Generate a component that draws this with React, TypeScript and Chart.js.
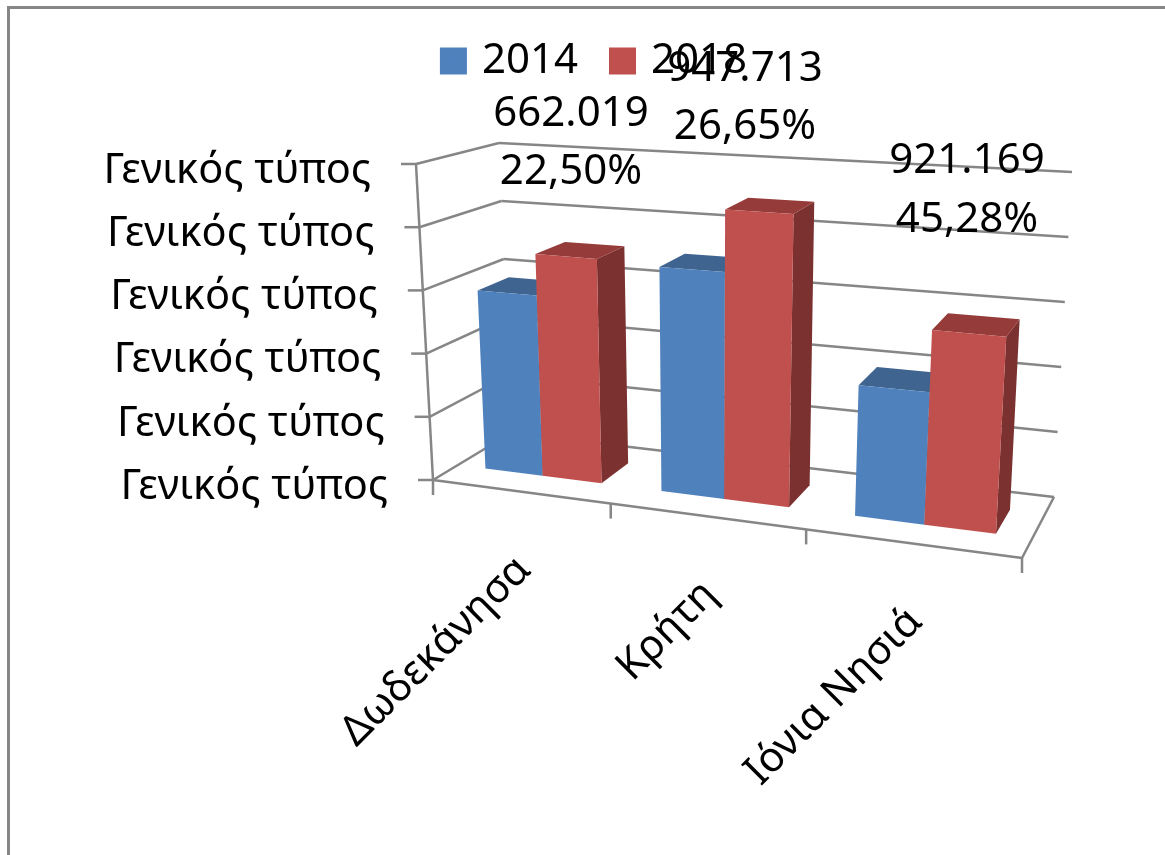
import React, { useEffect, useRef } from "react";
import { Chart, registerables, BarController } from "chart.js";

const categories = ["Δωδεκάνησα", "Κρήτη", "Ιόνια Νησιά"];
const years = ["2014", "2018"];
const values2014 = [2877000, 3493000, 1959000];
const values2018 = [3540000, 4458000, 2880000];
const diffLabels = ["662.019", "947.713", "921.169"];
const pctLabels = ["22,50%", "26,65%", "45,28%"];
const tickText = "Γενικός τύπος";
const yMax = 5000000;
const yStep = 1000000;

const BLUE = "#4F81BD";
const RED = "#C0504D";
const LINE = "#868686";
const FONT = '"Noto Sans", sans-serif';

// 3D box corners of the plot, on screen: F/B = front/back, L/R = left/right, 0/1 = floor/top
const BOX = {
  FL0: [433, 480], FL1: [416, 164], FR0: [1022, 558], FR1: [1043, 204],
  BL0: [511, 433], BL1: [499, 143], BR0: [1054, 497], BR1: [1072, 172],
};
const PERSPECTIVE = 1.157;
const BAR_DEPTH = [0.32, 0.72];
const lerp = (a: number, b: number, t: number) => a + (b - a) * t;
const warp = (u: number) => u / (u + PERSPECTIVE * (1 - u));
function project(u: number, v: number, d: number): [number, number] {
  const t = warp(u);
  const out: [number, number] = [0, 0];
  for (let i = 0; i < 2; i++) {
    const front = lerp(lerp(BOX.FL0[i], BOX.FR0[i], t), lerp(BOX.FL1[i], BOX.FR1[i], t), v);
    const back = lerp(lerp(BOX.BL0[i], BOX.BR0[i], t), lerp(BOX.BL1[i], BOX.BR1[i], t), v);
    out[i] = lerp(front, back, d);
  }
  return out;
}
function poly(ctx: CanvasRenderingContext2D, pts: [number, number][], fill: string) {
  ctx.beginPath();
  pts.forEach((p, i) => (i ? ctx.lineTo(p[0], p[1]) : ctx.moveTo(p[0], p[1])));
  ctx.closePath();
  ctx.fillStyle = fill;
  ctx.fill();
}
function seg(ctx: CanvasRenderingContext2D, a: number[], b: number[]) {
  ctx.beginPath();
  ctx.moveTo(a[0], a[1]);
  ctx.lineTo(b[0], b[1]);
  ctx.stroke();
}

class Bar3DController extends BarController {
  static id = "bar3d";
  static defaults = BarController.defaults;
  static overrides = BarController.overrides;
  drawBoxes() {
    const chart = this.chart;
    const ctx = chart.ctx;
    const area = chart.chartArea;
    const meta = this.getMeta();
    const ds: any = this.getDataset();
    meta.data.forEach((el: any) => {
      const u0 = (el.x - el.width / 2 - area.left) / area.width;
      const u1 = (el.x + el.width / 2 - area.left) / area.width;
      const v = (area.bottom - el.y) / area.height;
      const [d0, d1] = BAR_DEPTH;
      poly(ctx, [project(u1, 0, d0), project(u1, 0, d1), project(u1, v, d1), project(u1, v, d0)], ds.sideColor);
      poly(ctx, [project(u0, v, d0), project(u1, v, d0), project(u1, v, d1), project(u0, v, d1)], ds.topColor);
      poly(ctx, [project(u0, 0, d0), project(u1, 0, d0), project(u1, v, d0), project(u0, v, d0)], ds.backgroundColor);
    });
  }
  draw() {
    // Chart.js walks datasets last to first; the nearer series must paint over the earlier one.
    if (this.index !== 0) return;
    this.chart.getSortedVisibleDatasetMetas().forEach((m: any) => m.controller.drawBoxes());
  }
}

const framePlugin = {
  id: "frame3d",
  beforeDraw(chart: any) {
    const ctx = chart.ctx;
    ctx.save();
    ctx.strokeStyle = LINE;
    ctx.lineWidth = 3;
    ctx.beginPath();
    ctx.moveTo(8.5, 860);
    ctx.lineTo(8.5, 7.5);
    ctx.lineTo(1170, 7.5);
    ctx.stroke();
    ctx.restore();
  },
  beforeDatasetsDraw(chart: any) {
    const ctx = chart.ctx;
    const { x: xs, y: ys } = chart.scales;
    const area = chart.chartArea;
    ctx.save();
    ctx.strokeStyle = LINE;
    ctx.lineWidth = 2.5;
    ys.ticks.forEach((tick: any, i: number) => {
      const v = (area.bottom - ys.getPixelForTick(i)) / area.height;
      const f = project(0, v, 0);
      seg(ctx, f, project(0, v, 1));
      seg(ctx, project(0, v, 1), project(1, v, 1));
      seg(ctx, f, [f[0] - 15, f[1]]);
      ctx.fillStyle = "#000";
      ctx.font = `41.5px ${FONT}`;
      ctx.textAlign = "right";
      ctx.textBaseline = "middle";
      ctx.fillText(tick.label, f[0] - 45, f[1] + 7);
    });
    seg(ctx, project(0, 0, 0), project(0, 1, 0));
    seg(ctx, project(0, 0, 0), project(1, 0, 0));
    seg(ctx, project(1, 0, 0), project(1, 0, 1));
    const n = categories.length;
    for (let i = 0; i <= n; i++) {
      const p = project(i / n, 0, 0);
      seg(ctx, p, [p[0], p[1] + 15]);
    }
    categories.forEach((_, i) => {
      const u = (xs.getPixelForTick(i) - area.left) / area.width;
      const p = project(u, 0, 0);
      ctx.save();
      ctx.translate(p[0] + 4, p[1] + 72);
      ctx.rotate(-Math.PI / 4);
      ctx.fillStyle = "#000";
      ctx.font = `41.5px ${FONT}`;
      ctx.textAlign = "right";
      ctx.textBaseline = "middle";
      ctx.fillText(xs.getLabelForValue(i), 0, 0);
      ctx.restore();
    });
    ctx.restore();
  },
  afterDraw(chart: any) {
    const ctx = chart.ctx;
    const spots = [[571, 114, 172], [745, 69, 127], [967, 161, 220]];
    ctx.save();
    ctx.fillStyle = "#000";
    ctx.font = `42px ${FONT}`;
    ctx.textAlign = "center";
    ctx.textBaseline = "middle";
    spots.forEach(([x, y1, y2], i) => {
      ctx.fillText(diffLabels[i], x, y1);
      ctx.fillText(pctLabels[i], x, y2);
    });
    ctx.restore();
  },
};

Chart.register(...registerables, Bar3DController);

export default function App() {
  const ref = useRef<HTMLCanvasElement>(null);
  useEffect(() => {
    document.body.style.margin = "0";
    const chart = new Chart(ref.current as HTMLCanvasElement, {
      type: "bar3d" as any,
      data: {
        labels: categories,
        datasets: [
          { label: years[0], data: values2014, backgroundColor: BLUE, borderColor: BLUE, sideColor: "#345B8C", topColor: "#3F6490", clip: false } as any,
          { label: years[1], data: values2018, backgroundColor: RED, borderColor: RED, sideColor: "#7B3130", topColor: "#953B39", clip: false } as any,
        ],
      },
      options: {
        responsive: false,
        animation: false,
        layout: { padding: { top: 3, left: 43, right: 15, bottom: 100 } },
        datasets: { bar3d: { categoryPercentage: 0.67, barPercentage: 1 } } as any,
        scales: {
          x: { type: "category", ticks: { display: false }, grid: { display: false }, border: { display: false } },
          y: {
            type: "linear", min: 0, max: yMax,
            ticks: { display: false, stepSize: yStep, callback: () => tickText },
            grid: { display: false }, border: { display: false },
          },
        },
        plugins: {
          tooltip: { enabled: false },
          legend: {
            position: "top",
            labels: {
              boxWidth: 15,
              boxHeight: 15,
              padding: 37,
              color: "#000",
              font: { family: FONT, size: 42 },
              generateLabels: (c: any) =>
                c.data.datasets.map((d: any, i: number) => ({
                  text: d.label,
                  fillStyle: d.backgroundColor,
                  strokeStyle: d.backgroundColor,
                  lineWidth: 12,
                  fontColor: "#000",
                  datasetIndex: i,
                })),
            },
          },
        },
      } as any,
      plugins: [framePlugin],
    });
    return () => chart.destroy();
  }, []);
  return <canvas ref={ref} width={1165} height={855} style={{ display: "block" }} />;
}
